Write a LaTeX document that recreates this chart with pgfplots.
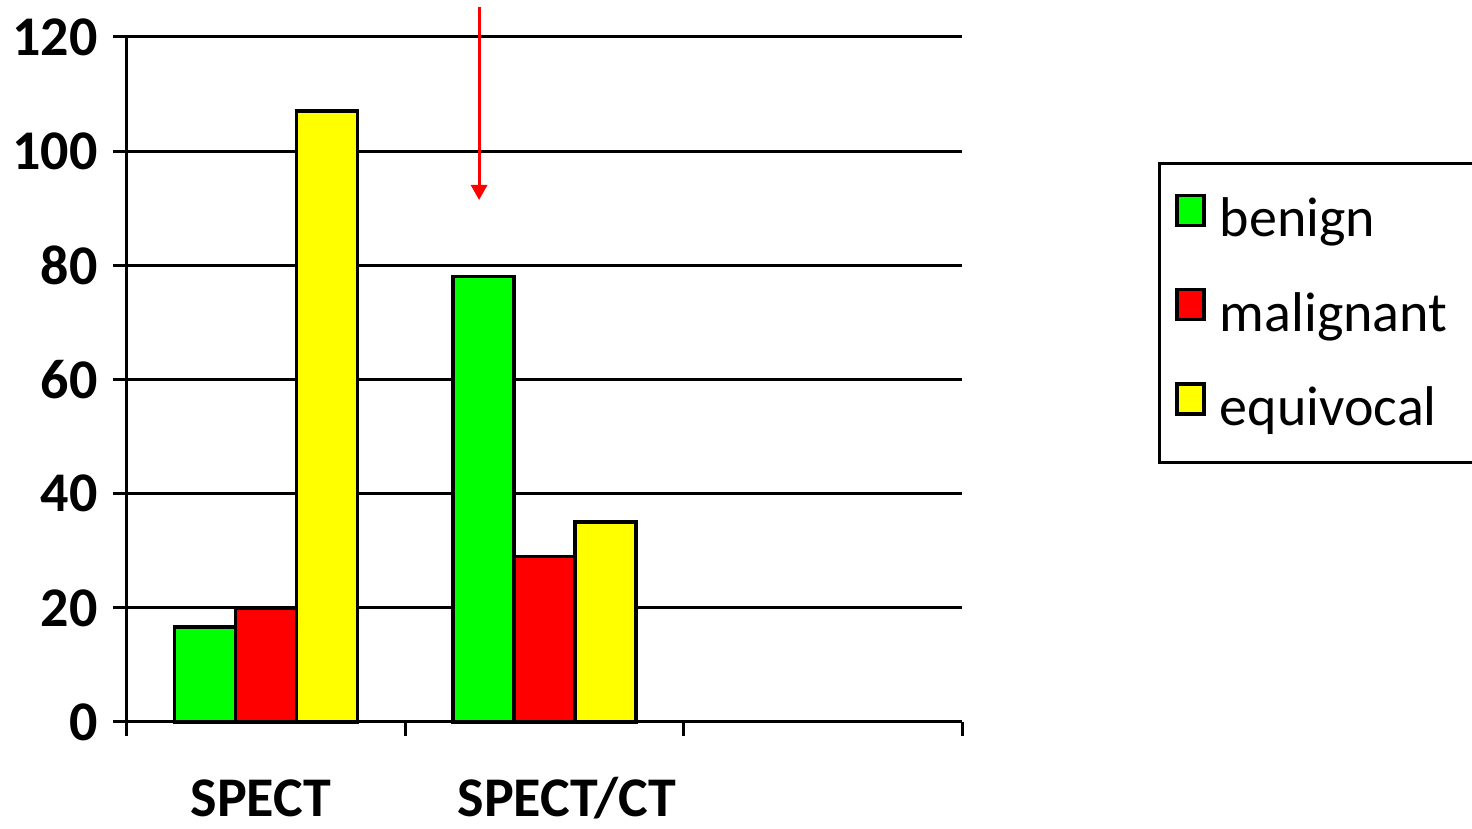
\documentclass[border=0pt]{standalone}
\usepackage{pgfplots}
\pgfplotsset{compat=1.18}
\usepackage{fontspec}
\setmainfont{Carlito}
\usetikzlibrary{arrows.meta}
\definecolor{cgreen}{HTML}{00FF00}
\definecolor{cred}{HTML}{FF0000}
\definecolor{cyellow}{HTML}{FFFF00}
\pgfplotsset{
  sqlegend/.style={legend image code/.code={%
    \draw[##1, line width=1.75pt] (0.5pt,2.5pt) rectangle (14pt,17.5pt);
    \path (21pt,0pt);}}
}
\begin{document}
\begin{tikzpicture}
\path[use as bounding box] (-63.5pt,-53.5pt) rectangle (672.5pt,361pt);
\begin{axis}[
  at={(0pt,0pt)}, anchor=south west,
  scale only axis, width=417.5pt, height=342.5pt,
  clip=false,
  ybar=0pt, bar width=30.5pt,
  xmin=-0.5, xmax=2.5, ymin=0, ymax=120,
  enlargelimits=false,
  axis x line*=bottom, axis y line*=left,
  axis line style={black, line width=1.5pt},
  tick align=outside, major tick length=7pt,
  tick style={black, line width=1.5pt},
  xtick={-0.5,0.5,1.5,2.5}, xticklabels={},
  extra x ticks={-0.019,1.081},
  extra x tick labels={SPECT,SPECT/CT},
  extra x tick style={major tick length=0pt, tick style={draw=none},
    tick label style={font=\fontsize{28}{33}\selectfont\bfseries, anchor=base,
      inner sep=0pt, text depth=2pt, yshift=-47pt}},
  ytick={0,20,...,120},
  /pgf/number format/assume math mode=true,
  yticklabel style={font=\fontsize{28}{33}\selectfont\bfseries, inner sep=0pt, anchor=east, xshift=-7.5pt},
  ymajorgrids, major grid style={black, line width=1.5pt},
  legend style={at={(axis description cs:1.2347,0.8175)}, anchor=north west,
    draw=black, line width=1.5pt, inner xsep=8pt, inner ysep=15pt,
    font=\fontsize{28}{33}\selectfont, legend cell align=left,
    row sep=22pt,
    nodes={inner sep=0pt, text height=10pt, text depth=3.5pt, text width=150pt, align=left}},
]
\addplot[fill=cgreen, draw=black, line width=1.75pt, sqlegend] coordinates {(0,16.6) (1,78)};
\addplot[fill=cred, draw=black, line width=1.75pt, sqlegend] coordinates {(0,20) (1,29)};
\addplot[fill=cyellow, draw=black, line width=1.75pt, sqlegend] coordinates {(0,107) (1,35)};
\legend{benign,malignant,equivocal}
\draw[cred, line width=1.5pt, -{Triangle[width=8pt,length=7.5pt]}] (axis cs:0.765,125.3) -- (axis cs:0.765,91.45);
\end{axis}
\end{tikzpicture}
\end{document}
